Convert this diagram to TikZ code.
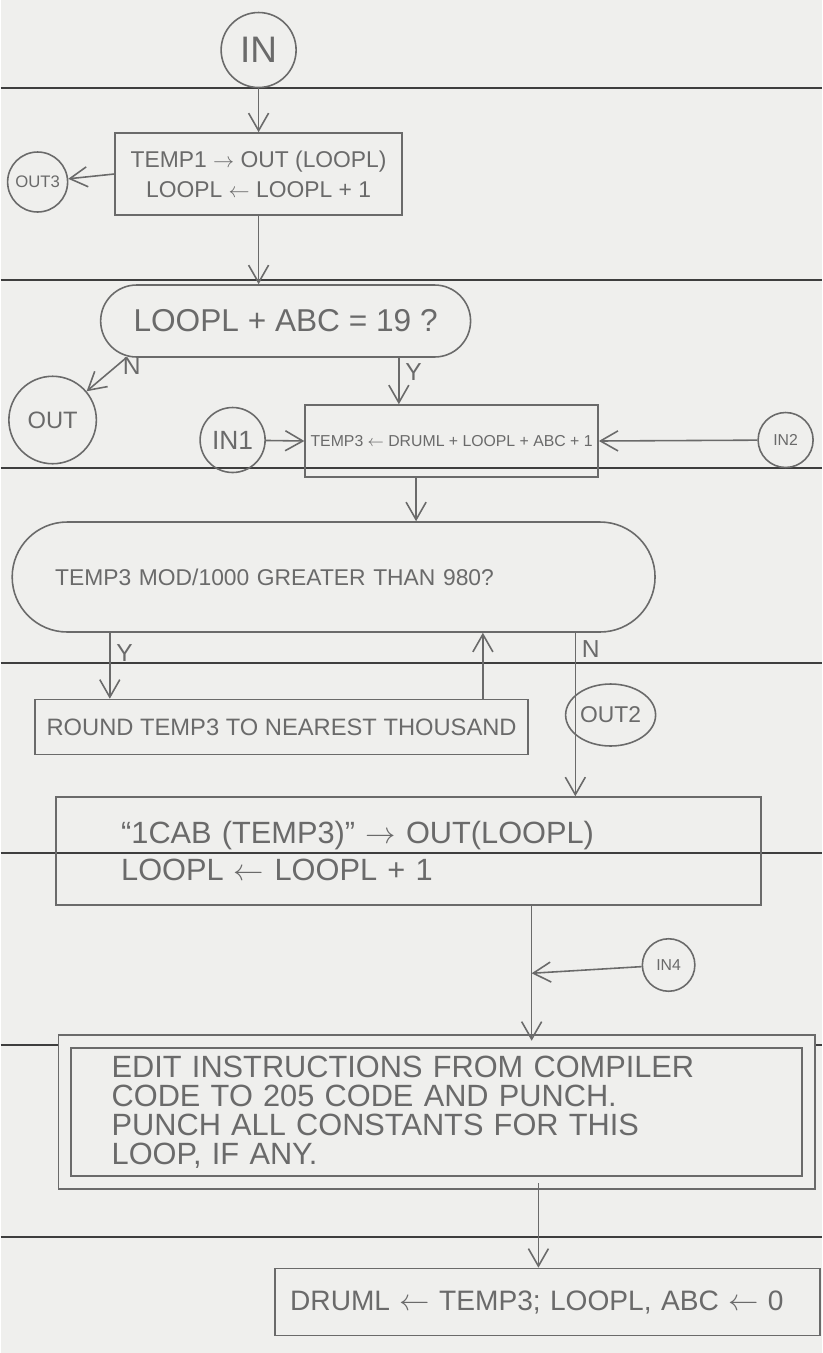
\documentclass[tikz,border=0pt]{standalone}
\usepackage{fontspec}
\setmainfont{Liberation Sans}
\usepackage{tikz}
\usetikzlibrary{arrows.meta,shapes.geometric}

\definecolor{paper}{HTML}{EFEFED}
\definecolor{pencil}{HTML}{6A6A6A}
\definecolor{ruling}{HTML}{3E3E3E}

\newcommand{\larr}{$\leftarrow$}
\newcommand{\rarr}{$\rightarrow$}
\newcommand{\fs}[1]{\fontsize{#1}{#1}\selectfont}

\begin{document}
\begin{tikzpicture}
        [x=0.02cm,y=-0.02cm,
        box/.style={draw=pencil,line width=0.9pt,text=pencil,align=center,inner sep=2pt},
        dec/.style={box,rounded corners=#1},
        conn/.style={circle,draw=pencil,line width=0.9pt,text=pencil,inner sep=1pt},
        flow/.style={draw=pencil,line width=0.9pt,-{Straight Barb[length=3.5mm,width=4mm]}},
        yn/.style={text=pencil,font=\fs{14}}]
        % paper and its ruled lines
        \fill[paper] (0,0) rectangle (821,1353);
        \foreach \y in {88,280,468,663,853,1045,1237}
                \draw[ruling,line width=0.7pt] (0,\y) -- (821,\y);

        \node[conn,minimum size=1.5cm,font=\fs{21}](in) at (258,50) {IN};
        \node[box,minimum width=5.74cm,minimum height=1.64cm,font=\fontsize{13}{17}\selectfont](b1) at (258,174)
                {TEMP1 \rarr\ OUT (LOOPL)\\LOOPL \larr\ LOOPL + 1};
        \node[conn,minimum size=1.2cm,font=\fs{9.5}](out3) at (37,182) {OUT3};
        \node[dec=0.72cm,minimum width=7.4cm,minimum height=1.44cm,font=\fs{18}](d1) at (285,321)
                {LOOPL + ABC = 19 ?};
        \node[conn,minimum size=1.75cm,font=\fs{13.5}](out) at (52,420) {OUT};
        \node[box,minimum width=5.86cm,minimum height=1.44cm,font=\fs{9}](b2) at (451,441)
                {TEMP3 \larr\ DRUML + LOOPL + ABC + 1};
        \node[conn,minimum size=1.3cm,font=\fs{15}](in1) at (232,440) {IN1};
        \node[conn,minimum size=1.1cm,font=\fs{9}](in2) at (785,440) {IN2};
        \node[dec=1.1cm,align=left,text width=11.14cm,inner xsep=0.86cm,minimum height=2.2cm,
                font=\fs{13}](d2) at (333,577)
                {TEMP3 MOD/1000 GREATER THAN 980?};
        \node[box,minimum width=9.86cm,minimum height=1.1cm,font=\fs{13.5}](b3) at (281,727)
                {ROUND TEMP3 TO NEAREST THOUSAND};
        \node[ellipse,draw=pencil,line width=0.9pt,text=pencil,inner sep=0pt,
                minimum width=1.8cm,minimum height=1.24cm,font=\fs{13}](out2) at (610,715) {OUT2};
        \node[box,align=left,text width=11.5cm,inner xsep=1.3cm,minimum height=2.16cm,
                font=\fontsize{17.5}{21}\selectfont](b4) at (408,851)
                {``1CAB (TEMP3)'' \rarr\ OUT(LOOPL)\\LOOPL \larr\ LOOPL + 1};
        \node[box,double=paper,double distance=0.22cm,align=left,text width=13cm,inner xsep=0.94cm,
                minimum height=2.82cm,font=\fontsize{17.5}{16.5}\selectfont](b5) at (436,1112)
                {EDIT INSTRUCTIONS FROM COMPILER\\CODE TO 205 CODE AND PUNCH.\\
                PUNCH ALL CONSTANTS FOR THIS\\LOOP, IF ANY.};
        \node[conn,minimum size=1.05cm,font=\fs{9}](in4) at (668,965) {IN4};
        \node[box,align=left,text width=10.3cm,inner xsep=0.3cm,minimum height=1.34cm,
                font=\fs{16}](b6) at (547,1302)
                {DRUML \larr\ TEMP3; LOOPL, ABC \larr\ 0};

        \draw[flow] (in) -- (b1);
        \draw[flow] (b1.west) -- (out3);
        \draw[flow] (b1.south) -- (b1.south |- d1.north);
        \draw[flow] (d1.193) -- node[yn,right,pos=0.25]{N} (out);
        \draw[flow] (d1.-18) -- node[yn,right,pos=0.3]{Y} (d1.-18 |- b2.north);
        \draw[flow] (in1) -- (b2.west);
        \draw[flow] (in2) -- (b2.east);
        \draw[flow] (b2.226) -- (b2.226 |- d2.north);
        \draw[flow] (d2.194.5) -- node[yn,right,pos=0.3]{Y} (d2.194.5 |- b3.north);
        \draw[flow] (b3.8.8) -- (b3.8.8 |- d2.south);
        \draw[flow] (d2.-13.3) -- node[yn,right,pos=0.1]{N} (d2.-13.3 |- b4.north);
        \draw[flow] (b4.-24.8) -- (b4.-24.8 |- b5.north) coordinate[pos=0.5](m);
        \draw[flow] (in4) -- (m);
        \draw[flow] (b5.-35.7) -- (b5.-35.7 |- b6.north);
\end{tikzpicture}
\end{document}
